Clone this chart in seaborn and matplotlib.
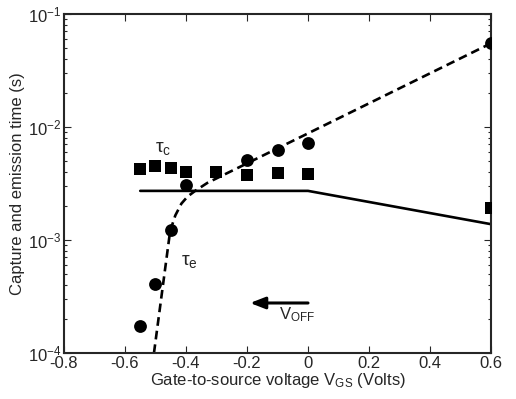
import matplotlib
matplotlib.use("Agg")
import matplotlib.pyplot as plt
import seaborn as sns
import numpy as np
import pandas as pd

# ---- data ----
vgs_e = [-0.55, -0.50, -0.45, -0.40, -0.20, -0.10, 0.00, 0.60]
tau_e = [1.73e-4, 4.05e-4, 1.22e-3, 3.05e-3, 5.1e-3, 6.25e-3, 7.2e-3, 5.5e-2]

vgs_c = [-0.55, -0.50, -0.45, -0.40, -0.30, -0.20, -0.10, 0.00, 0.60]
tau_c = [4.25e-3, 4.5e-3, 4.3e-3, 4.0e-3, 4.0e-3, 3.75e-3, 3.9e-3, 3.8e-3, 1.93e-3]

fit_c_v = [-0.55, 0.00, 0.60]
fit_c_t = [2.72e-3, 2.72e-3, 1.38e-3]

fit_e_v = [-0.505, -0.452, -0.435, -0.415, -0.395, -0.37, -0.33, 0.60]
fit_e_t = [1.0e-4, 1.2e-3, 1.65e-3, 2.1e-3, 2.42e-3, 2.72e-3, 3.2e-3, 5.5e-2]

xticks = [-0.8, -0.6, -0.4, -0.2, 0, 0.2, 0.4, 0.6]
xticklabels = ["-0.8", "-0.6", "-0.4", "-0.2", "0", "0.2", "0.4", "0.6"]

sns.set_style("ticks")
plt.rcParams["font.family"] = ["Liberation Sans", "DejaVu Sans"]
plt.rcParams["mathtext.fontset"] = "custom"
plt.rcParams["mathtext.rm"] = "Liberation Sans"
plt.rcParams["mathtext.it"] = "Liberation Sans:italic"
plt.rcParams["mathtext.bf"] = "Liberation Sans:bold"
plt.rcParams["mathtext.sf"] = "Liberation Sans"

fig = plt.figure(figsize=(5.16, 3.99), dpi=100)
ax = fig.add_axes([0.124, 0.1153, 0.8276, 0.8497])

df_e = pd.DataFrame({"v": vgs_e, "t": tau_e})
df_c = pd.DataFrame({"v": vgs_c, "t": tau_c})
df_fc = pd.DataFrame({"v": fit_c_v, "t": fit_c_t})
df_fe = pd.DataFrame({"v": fit_e_v, "t": fit_e_t})

sns.lineplot(data=df_fc, x="v", y="t", ax=ax, color="black", lw=1.9, sort=False)
sns.lineplot(data=df_fe, x="v", y="t", ax=ax, color="black", lw=1.9, sort=False)
ax.lines[-1].set_dashes([3.3, 1.9])
sns.scatterplot(data=df_e, x="v", y="t", ax=ax, color="black", marker="o", s=85,
                edgecolor="black", linewidth=0, zorder=5)
sns.scatterplot(data=df_c, x="v", y="t", ax=ax, color="black", marker="s", s=72,
                edgecolor="black", linewidth=0, zorder=5)

ax.set_yscale("log")
ax.set_xlim(-0.8, 0.6)
ax.set_ylim(1e-4, 1e-1)
ax.set_xticks(xticks)
ax.set_xticklabels(xticklabels)

ax.tick_params(axis="both", which="both", direction="in", top=True, right=True,
               labelsize=12, pad=2, width=0.8)
ax.tick_params(axis="both", which="major", length=5)
ax.tick_params(axis="y", which="minor", length=2.5)
for s in ax.spines.values():
    s.set_linewidth(1.5)

ax.set_xlabel(r"Gate-to-source voltage V$_{\mathrm{GS}}$ (Volts)", fontsize=12, labelpad=0)
ax.set_ylabel("Capture and emission time (s)", fontsize=12, labelpad=2)

ax.text(-0.5, 6.4e-3, r"τ$_\mathrm{c}$", fontsize=14, ha="left", va="center")
ax.text(-0.415, 6.4e-4, r"τ$_\mathrm{e}$", fontsize=14, ha="left", va="center")
ax.annotate("", xy=(-0.19, 2.77e-4), xytext=(0.0, 2.77e-4),
            arrowprops=dict(arrowstyle="-|>,head_length=0.9,head_width=0.35",
                            color="black", lw=2.2, shrinkA=0, shrinkB=0))
ax.text(-0.095, 2.2e-4, r"V$_{\mathrm{OFF}}$", fontsize=12, ha="left", va="center")

fig.savefig("out.png", dpi=100)
